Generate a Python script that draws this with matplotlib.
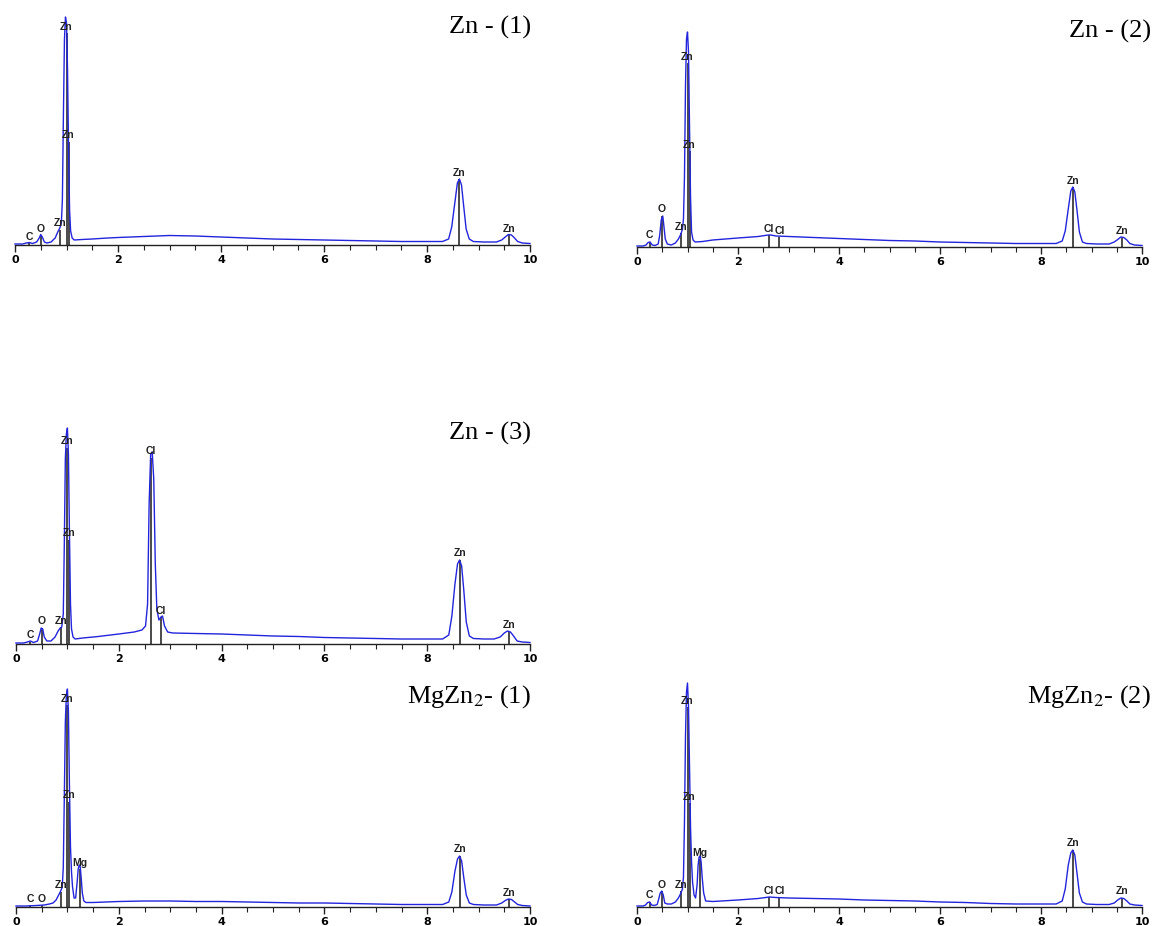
import matplotlib
matplotlib.use("Agg")
import matplotlib.pyplot as plt
from matplotlib.ticker import MultipleLocator

plt.rcParams['mathtext.fontset'] = 'stix'

# EDS spectra, energy in keV, intensity in arbitrary counts
zn1_E = [0.0, 0.15, 0.22, 0.28, 0.34, 0.42, 0.47, 0.50, 0.53, 0.57, 0.62, 0.70, 0.78, 0.83, 0.87, 0.90,
         0.92, 0.94, 0.96, 0.98, 1.00, 1.02, 1.04, 1.06, 1.08, 1.11, 1.15, 1.3, 1.5, 1.8, 2.0, 2.5, 3.0,
         3.5, 4.0, 4.5, 5.0, 5.5, 6.0, 6.5, 7.0, 7.5, 8.0, 8.3, 8.42, 8.48, 8.54, 8.59, 8.63, 8.67, 8.71,
         8.76, 8.82, 8.9, 9.1, 9.35, 9.45, 9.52, 9.58, 9.64, 9.70, 9.76, 9.85, 10.0]
zn1_I = [1, 1, 2, 2.5, 1.5, 3, 7, 10.5, 8, 3, 2, 3, 7, 13, 17, 22,
         45, 130, 205, 228, 222, 175, 95, 35, 14, 7, 5, 5.5, 6, 7, 7.5, 8.5, 9.5,
         9, 8, 7, 6, 5.5, 5, 4.5, 4, 3.5, 3.5, 3.5, 6, 18, 42, 62, 66, 60, 40,
         16, 6, 3.5, 3, 3, 5, 8, 10.5, 10, 7, 3.5, 2, 1.5]

zn2_E = [0.0, 0.12, 0.18, 0.22, 0.26, 0.30, 0.36, 0.42, 0.45, 0.48, 0.51, 0.53, 0.56, 0.60, 0.68, 0.76,
         0.82, 0.87, 0.90, 0.92, 0.94, 0.96, 0.98, 1.00, 1.02, 1.04, 1.06, 1.08, 1.11, 1.15, 1.3, 1.5,
         2.0, 2.4, 2.6, 2.65, 2.75, 3.0, 3.5, 4.0, 4.5, 5.0, 5.5, 6.0, 6.5, 7.0, 7.5, 8.0, 8.3, 8.42,
         8.48, 8.54, 8.59, 8.63, 8.67, 8.71, 8.76, 8.82, 8.9, 9.1, 9.35, 9.45, 9.52, 9.58, 9.64, 9.70,
         9.76, 9.85, 10.0]
zn2_I = [1, 1, 2, 4.5, 5, 2, 1.5, 3, 12, 27, 31, 22, 8, 3, 2, 4,
         8, 13, 18, 28, 70, 160, 208, 215, 195, 120, 50, 15, 7, 5, 5.5, 7,
         9, 10.5, 12, 12, 11, 10.5, 9.5, 8.5, 7.5, 6.5, 6, 5, 4.5, 4, 3.5, 3.5, 3.5, 6,
         16, 38, 56, 60, 55, 38, 15, 5, 3.5, 3, 3, 5, 7.5, 10, 9.5, 7,
         3.5, 2, 1.5]

zn3_E = [0.0, 0.15, 0.22, 0.28, 0.34, 0.42, 0.46, 0.49, 0.52, 0.55, 0.60, 0.68, 0.76, 0.82, 0.86, 0.89,
         0.92, 0.94, 0.96, 0.98, 1.00, 1.02, 1.04, 1.06, 1.08, 1.11, 1.15, 1.3, 1.6, 2.0, 2.3, 2.45,
         2.52, 2.56, 2.59, 2.62, 2.65, 2.68, 2.71, 2.74, 2.78, 2.82, 2.85, 2.89, 2.95, 3.05, 3.5, 4.0,
         4.5, 5.0, 5.5, 6.0, 6.5, 7.0, 7.5, 8.0, 8.3, 8.42, 8.48, 8.54, 8.59, 8.63, 8.67, 8.71, 8.76,
         8.82, 8.9, 9.1, 9.3, 9.42, 9.5, 9.56, 9.62, 9.68, 9.75, 9.85, 10.0]
zn3_I = [1, 1, 2, 3, 1.5, 3, 10, 16, 15, 7, 3, 3, 7, 13, 16, 17,
         30, 100, 185, 210, 216, 190, 110, 40, 15, 7, 5, 6, 7.5, 10, 12, 14,
         18, 40, 140, 190, 192, 165, 80, 35, 24, 27, 28, 18, 12, 11, 10.5, 10,
         9, 8, 7.5, 6.5, 6, 5.5, 5, 5, 5, 9, 28, 60, 80, 84, 78, 55, 22,
         8, 5.5, 5, 5, 7, 11, 13, 12, 8, 3, 2, 1.5]

mg1_E = [0.0, 0.2, 0.4, 0.55, 0.65, 0.72, 0.78, 0.83, 0.87, 0.90, 0.92, 0.94, 0.96, 0.98, 1.00, 1.02,
         1.04, 1.06, 1.08, 1.10, 1.13, 1.16, 1.19, 1.21, 1.23, 1.25, 1.27, 1.29, 1.32, 1.36, 1.5, 2.0,
         2.5, 3.0, 3.5, 4.0, 4.5, 5.0, 5.5, 6.0, 6.5, 7.0, 7.5, 8.0, 8.3, 8.42, 8.48, 8.54, 8.59, 8.63,
         8.67, 8.71, 8.76, 8.82, 8.9, 9.1, 9.35, 9.45, 9.52, 9.58, 9.64, 9.70, 9.76, 9.85, 10.0]
mg1_I = [1, 1, 1.5, 2, 3, 4, 7, 12, 16, 20, 40, 110, 185, 212, 218, 195,
         120, 60, 35, 20, 9, 9, 25, 38, 42, 40, 28, 14, 6, 4.5, 4.5, 5.5,
         6, 6, 5.5, 5.5, 5, 4.5, 4, 4, 3.5, 3, 2.5, 2.5, 2.5, 5, 15, 36, 48, 51,
         46, 30, 12, 4, 2.5, 2, 2, 4, 6.5, 8, 7.5, 5, 2.5, 1.5, 1]

mg2_E = [0.0, 0.12, 0.17, 0.21, 0.25, 0.29, 0.34, 0.40, 0.43, 0.46, 0.49, 0.52, 0.55, 0.60, 0.68, 0.76,
         0.82, 0.87, 0.90, 0.92, 0.94, 0.96, 0.98, 1.00, 1.02, 1.04, 1.06, 1.08, 1.10, 1.13, 1.16, 1.19,
         1.21, 1.23, 1.25, 1.27, 1.29, 1.32, 1.36, 1.5, 2.0, 2.4, 2.62, 2.75, 3.0, 3.5, 4.0, 4.5, 5.0,
         5.5, 6.0, 6.5, 7.0, 7.5, 8.0, 8.3, 8.42, 8.48, 8.54, 8.59, 8.63, 8.67, 8.71, 8.76, 8.82, 8.9,
         9.1, 9.35, 9.45, 9.52, 9.58, 9.64, 9.70, 9.76, 9.85, 10.0]
mg2_I = [1, 1, 2, 4.5, 5, 2, 1.5, 2.5, 8, 14, 16, 12, 4, 3, 3, 5,
         9, 14, 18, 30, 85, 170, 215, 224, 200, 140, 80, 45, 25, 12, 9, 22,
         42, 50, 51, 45, 30, 14, 6, 5.5, 7, 8.5, 10, 9.5, 9, 8.5, 8, 7, 6.5,
         6, 5, 4.5, 3.5, 3, 3, 3, 6, 18, 42, 54, 57, 52, 35, 14, 5, 3,
         2.5, 2.5, 4, 7, 9, 8.5, 6, 3, 2, 1.5]

# element marker lines: label, energy (keV), marker height
zn1_lbl = ['C', 'O', 'Zn', 'Zn', 'Zn', 'Zn', 'Zn']
zn1_pos = [0.27, 0.50, 0.87, 1.00, 1.04, 8.63, 9.60]
zn1_hgt = [2, 10, 15, 212, 103, 66, 10]

zn2_lbl = ['C', 'O', 'Zn', 'Zn', 'Zn', 'Cl', 'Cl', 'Zn', 'Zn']
zn2_pos = [0.25, 0.49, 0.87, 1.00, 1.04, 2.62, 2.82, 8.63, 9.60]
zn2_hgt = [5, 31, 14, 184, 96, 12, 10, 60, 9]

zn3_lbl = ['C', 'O', 'Zn', 'Zn', 'Zn', 'Cl', 'Cl', 'Zn', 'Zn']
zn3_pos = [0.27, 0.50, 0.87, 1.00, 1.04, 2.62, 2.82, 8.63, 9.60]
zn3_hgt = [2, 16, 17, 196, 104, 186, 27, 84, 12]

mg1_lbl = ['C', 'O', 'Zn', 'Zn', 'Zn', 'Mg', 'Zn', 'Zn']
mg1_pos = [0.27, 0.50, 0.87, 1.00, 1.04, 1.24, 8.63, 9.60]
mg1_hgt = [2, 2, 15, 202, 105, 38, 51, 8]

mg2_lbl = ['C', 'O', 'Zn', 'Zn', 'Zn', 'Mg', 'Cl', 'Cl', 'Zn', 'Zn']
mg2_pos = [0.25, 0.49, 0.87, 1.00, 1.04, 1.24, 2.62, 2.82, 8.63, 9.60]
mg2_hgt = [5, 16, 16, 200, 104, 48, 10, 9, 57, 9]

titles = ['Zn - (1)', 'Zn - (2)', 'Zn - (3)', 'MgZn$_2$- (1)', 'MgZn$_2$- (2)']

W, H = 1153, 926
fig = plt.figure(figsize=(W / 100, H / 100), dpi=100)

# panel frames in pixels: left (0 keV), right (10 keV), baseline, title right edge, title centre y
frames = [(15, 530, 245, 531, 27),
          (637, 1142, 247, 1151, 31),
          (16, 530, 644, 531, 433),
          (16, 530, 907, 531, 697),
          (637, 1142, 907, 1151, 697)]
spectra = [(zn1_E, zn1_I, zn1_lbl, zn1_pos, zn1_hgt),
           (zn2_E, zn2_I, zn2_lbl, zn2_pos, zn2_hgt),
           (zn3_E, zn3_I, zn3_lbl, zn3_pos, zn3_hgt),
           (mg1_E, mg1_I, mg1_lbl, mg1_pos, mg1_hgt),
           (mg2_E, mg2_I, mg2_lbl, mg2_pos, mg2_hgt)]
top = 235

for i in range(5):
    left, right, base, tx, ty = frames[i]
    E, I, lbl, pos, hgt = spectra[i]
    ax = fig.add_axes([left / W, (H - base) / H, (right - left) / W, top / H])
    ax.patch.set_alpha(0)

    for p, h in zip(pos, hgt):
        ax.plot([p, p], [0, h], color='#3c3c3c', lw=1.3, solid_capstyle='butt', zorder=2)
    ax.plot(E, I, color='#2424dc', lw=1.0, zorder=3, clip_on=False)
    for name, p, h in zip(lbl, pos, hgt):
        ax.text(p, h + 1.5, name, ha='center', va='bottom', fontsize=7.5,
                family='Liberation Sans', weight='bold', color='#222222', zorder=4)

    ax.set_xlim(0, 10)
    ax.set_ylim(0, top)
    for s in ['left', 'right', 'top']:
        ax.spines[s].set_visible(False)
    ax.spines['bottom'].set_linewidth(1.0)
    ax.spines['bottom'].set_color('#222222')
    ax.set_yticks([])
    ax.xaxis.set_major_locator(MultipleLocator(2))
    ax.xaxis.set_minor_locator(MultipleLocator(0.5))
    ax.tick_params(axis='x', which='major', length=5, width=1, pad=2, color='#222222')
    ax.tick_params(axis='x', which='minor', length=3.5, width=0.8, color='#222222')
    for t in ax.get_xticklabels():
        t.set_fontsize(8)
        t.set_fontweight('bold')

    fig.text(tx / W, 1 - ty / H, titles[i], ha='right', va='center', fontsize=19,
             family='Liberation Serif')

fig.savefig('out.png', dpi=100)
